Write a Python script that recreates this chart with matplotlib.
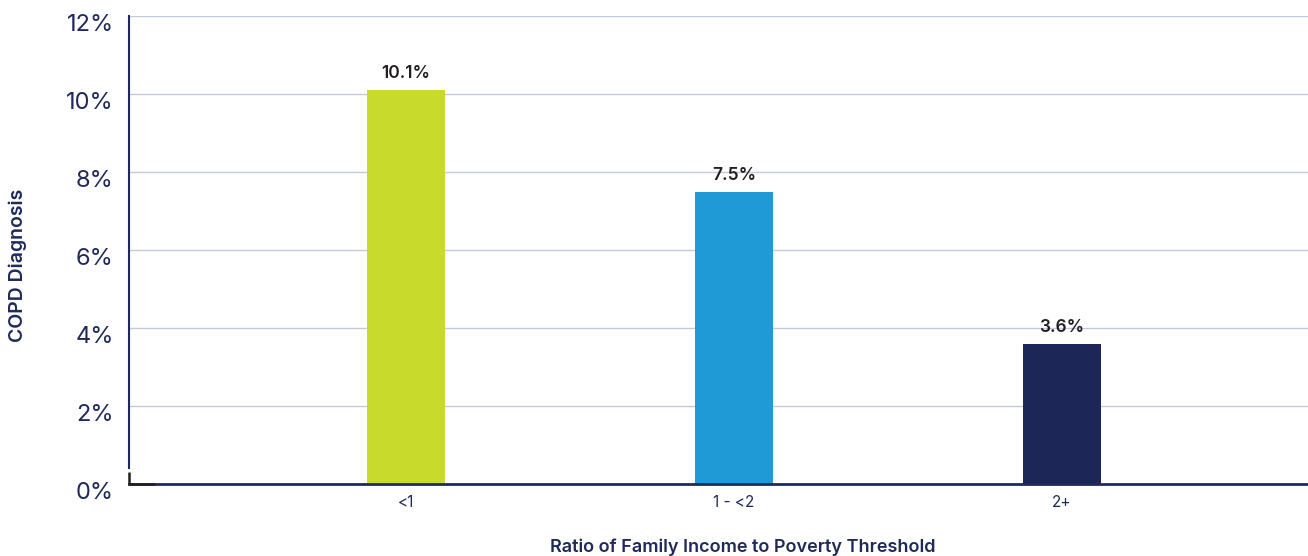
import matplotlib.pyplot as plt
import matplotlib.transforms as mtransforms
import numpy as np

plt.rcParams['font.family'] = ['Inter', 'DejaVu Sans']

categories = ['<1', '1 - <2', '2+']
values = [10.1, 7.5, 3.6]
labels = ['10.1%', '7.5%', '3.6%']
colors = ['#c8da2b', '#1f9ad6', '#1c2657']
yticks = [0, 2, 4, 6, 8, 10, 12]

navy = '#1f2a5a'

fig = plt.figure(figsize=(13.08, 5.56), dpi=100)
ax = fig.add_axes([129 / 1308, 1 - 484 / 556, (1308 - 129) / 1308, (484 - 16) / 556])

x = np.arange(len(categories))
bars = ax.bar(x, values, width=0.24, color=colors, zorder=3)
for b, lab in zip(bars, labels):
    ax.text(b.get_x() + b.get_width() / 2, b.get_height() + 0.2, lab,
            ha='center', va='bottom', fontsize=12.5, fontweight='semibold',
            color='#231f20')

ax.set_xlim(-0.845, 2.75)
ax.set_ylim(0, 12)
ax.set_yticks(yticks)
ax.set_yticklabels([f'{t}%' for t in yticks], fontsize=17, color=navy)
ax.set_xticks(x)
ax.set_xticklabels(categories, fontsize=11, color=navy)
ax.tick_params(axis='both', length=0)
ax.tick_params(axis='y', pad=11)
ax.tick_params(axis='x', pad=8)

# y tick labels sit slightly below their gridlines
shift = mtransforms.ScaledTranslation(0, -5 / 72, fig.dpi_scale_trans)
for t in ax.get_yticklabels():
    t.set_transform(t.get_transform() + shift)

ax.grid(axis='y', color='#c5cad9', linewidth=1, zorder=0)
for s in ['top', 'right']:
    ax.spines[s].set_visible(False)
ax.spines['left'].set_color(navy)
ax.spines['left'].set_linewidth(1.5)
ax.spines['left'].set_bounds(0.4, 12)
ax.spines['bottom'].set_color(navy)
ax.spines['bottom'].set_linewidth(2)
ax.spines['bottom'].set_zorder(4)

# small dark corner at the origin
ax.plot([-0.845, -0.845, -0.765], [0.3, 0, 0], color='#231f20', lw=1.8,
        clip_on=False, zorder=5, solid_capstyle='butt')

fig.text(18 / 1308, 1 - 265 / 556, 'COPD Diagnosis', rotation=90,
         ha='center', va='center', fontsize=14, fontweight='semibold', color=navy)
fig.text(743 / 1308, 1 - 547 / 556, 'Ratio of Family Income to Poverty Threshold',
         ha='center', va='center', fontsize=13, fontweight='semibold', color=navy)

fig.savefig('out.png', dpi=100)
